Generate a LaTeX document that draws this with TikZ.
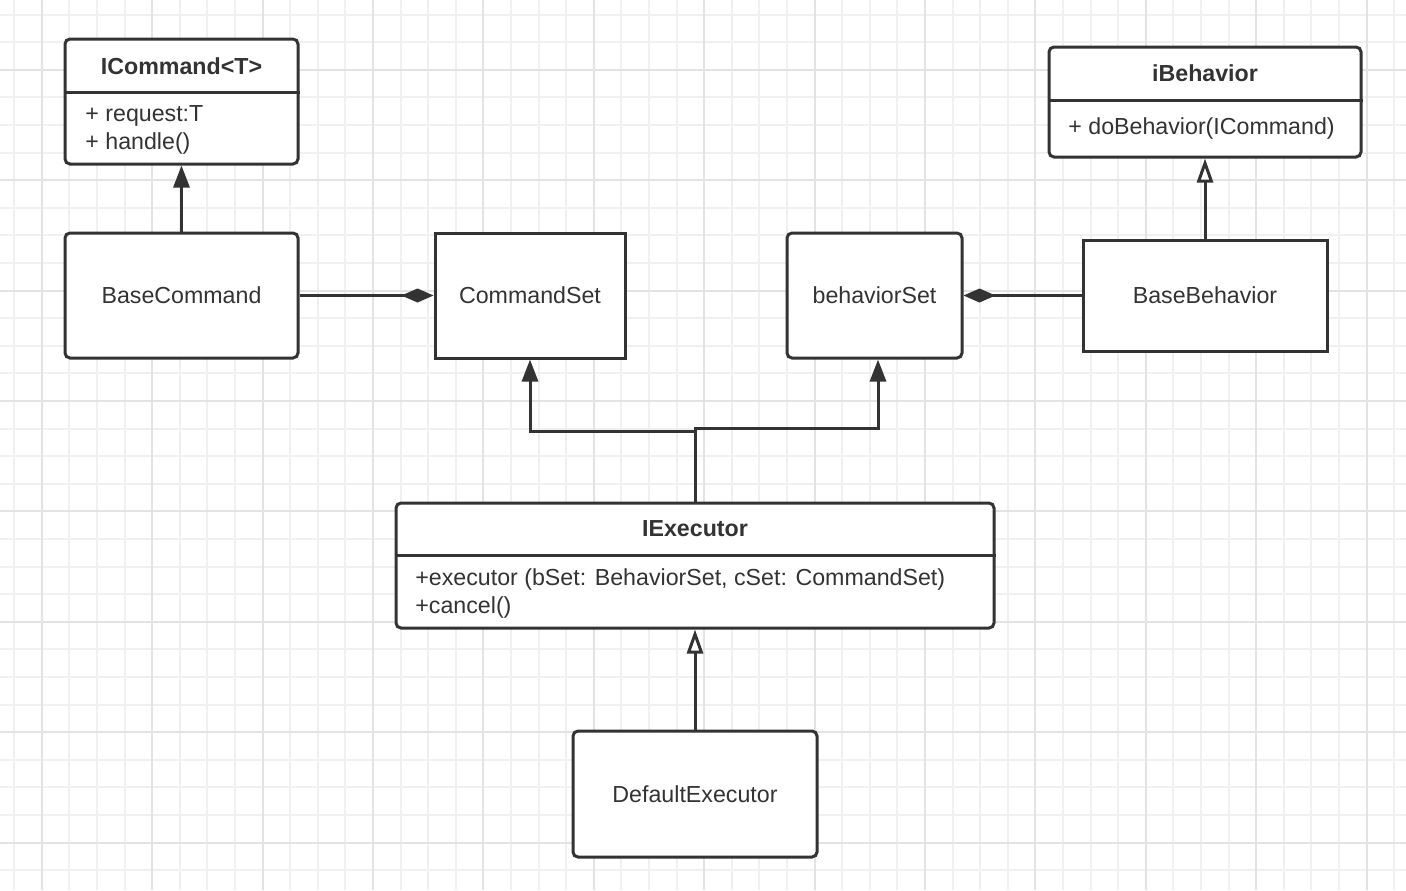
\documentclass[tikz,border=0pt]{standalone}
\usepackage{fontspec}
\setmainfont{Liberation Sans}
\usepackage{xcolor}
\usepackage{tikz}
\usetikzlibrary{arrows.meta}
\definecolor{ink}{HTML}{333333}
\definecolor{gridminor}{HTML}{F0F0F0}
\definecolor{gridmajor}{HTML}{E3E3E3}
\tikzset{
  box/.style={draw=ink, fill=white, line width=1.5pt, inner sep=0pt, text=ink, font=\fontsize{11.6}{14}\selectfont},
  rbox/.style={box, rounded corners=2.5pt},
  title/.style={text=ink, font=\bfseries\fontsize{11.6}{14}\selectfont},
  attr/.style={text=ink, anchor=west, align=left, inner sep=0pt, font=\fontsize{11.6}{14}\selectfont},
  link/.style={draw=ink, line width=1.5pt},
  assoc/.style={link, -{Triangle[width=8pt,length=11pt]}},
  inherit/.style={link, -{Triangle[open,fill=white,width=8pt,length=12pt]}},
  comp/.style={link, -{Diamond[width=7pt,length=16pt]}},
  gmin/.style={draw=gridminor, line width=1pt},
  gmaj/.style={draw=gridmajor, line width=1pt},
}

\begin{document}
\begin{tikzpicture}[x=0.5pt, y=-0.5pt]
  \fill[white] (0,0) rectangle (1406,890);
  \useasboundingbox (0,0) rectangle (1406,890);
  % grid
  \foreach \k in {0,...,50} {
    \pgfmathsetmacro{\gx}{round(14.1+27.6*\k)}
    \draw[gmin] (\gx,0) -- (\gx,890);
  }
  \foreach \k in {0,...,31} {
    \pgfmathsetmacro{\gy}{round(14.5+27.6*\k)}
    \draw[gmin] (0,\gy) -- (1406,\gy);
  }
  \foreach \k in {1,5,...,49} {
    \pgfmathsetmacro{\gx}{round(14.1+27.6*\k)}
    \draw[gmaj] (\gx,0) -- (\gx,890);
  }
  \foreach \k in {2,6,...,30} {
    \pgfmathsetmacro{\gy}{round(14.5+27.6*\k)}
    \draw[gmaj] (0,\gy) -- (1406,\gy);
  }
  % interfaces
  \node[rbox, minimum width=116.5pt, minimum height=62.5pt] (icmd) at (181.5,101.5) {};
  \draw[link] (icmd.west |- 0,92) -- (icmd.east |- 0,92);
  \node[title] (icmdt) at (181.5,66) {ICommand<T>};
  \node[attr] (icmda) at (85,130) {+ request:T\\+ handle()};
  \node[rbox, minimum width=156pt, minimum height=55pt] (ibeh) at (1205,102) {};
  \draw[link] (ibeh.west |- 0,100) -- (ibeh.east |- 0,100);
  \node[title] (ibeht) at (1205,73) {iBehavior};
  \node[attr] (ibeha) at (1068,128.5) {+ doBehavior(ICommand)};
  \node[rbox, minimum width=299pt, minimum height=62.5pt] (iexec) at (695,565.5) {};
  \draw[link] (iexec.west |- 0,555) -- (iexec.east |- 0,555);
  \node[title] (iexect) at (695,529) {IExecutor};
  \node[attr] (iexeca) at (415,593.5) {+executor (bSet: BehaviorSet, cSet: CommandSet)\\+cancel()};
  % classes
  \node[rbox, minimum width=116.5pt, minimum height=62.5pt] (basecmd) at (181.5,295.5) {BaseCommand};
  \node[box, minimum width=95pt, minimum height=62.5pt] (cmdset) at (530,295.5) {CommandSet};
  \node[rbox, minimum width=87.5pt, minimum height=62.5pt] (bset) at (874.5,295.5) {behaviorSet};
  \node[box, minimum width=122pt, minimum height=55.5pt] (basebeh) at (1205,295.5) {BaseBehavior};
  \node[rbox, minimum width=122pt, minimum height=63pt] (defexec) at (695,794) {DefaultExecutor};
  % links
  \draw[assoc] (basecmd.north) -- (icmd.south);
  \draw[comp] (basecmd.east) -- (cmdset.west);
  \draw[comp] (basebeh.west) -- (bset.east);
  \draw[inherit] (basebeh.north) -- (ibeh.south);
  \draw[inherit] (defexec.north) -- (iexec.south);
  \draw[assoc] (iexec.north) -- ++(0,-70) -| (cmdset.south);
  \draw[assoc] (iexec.north) -- ++(0,-73) -| ([xshift=1.75pt]bset.south);
\end{tikzpicture}
\end{document}
